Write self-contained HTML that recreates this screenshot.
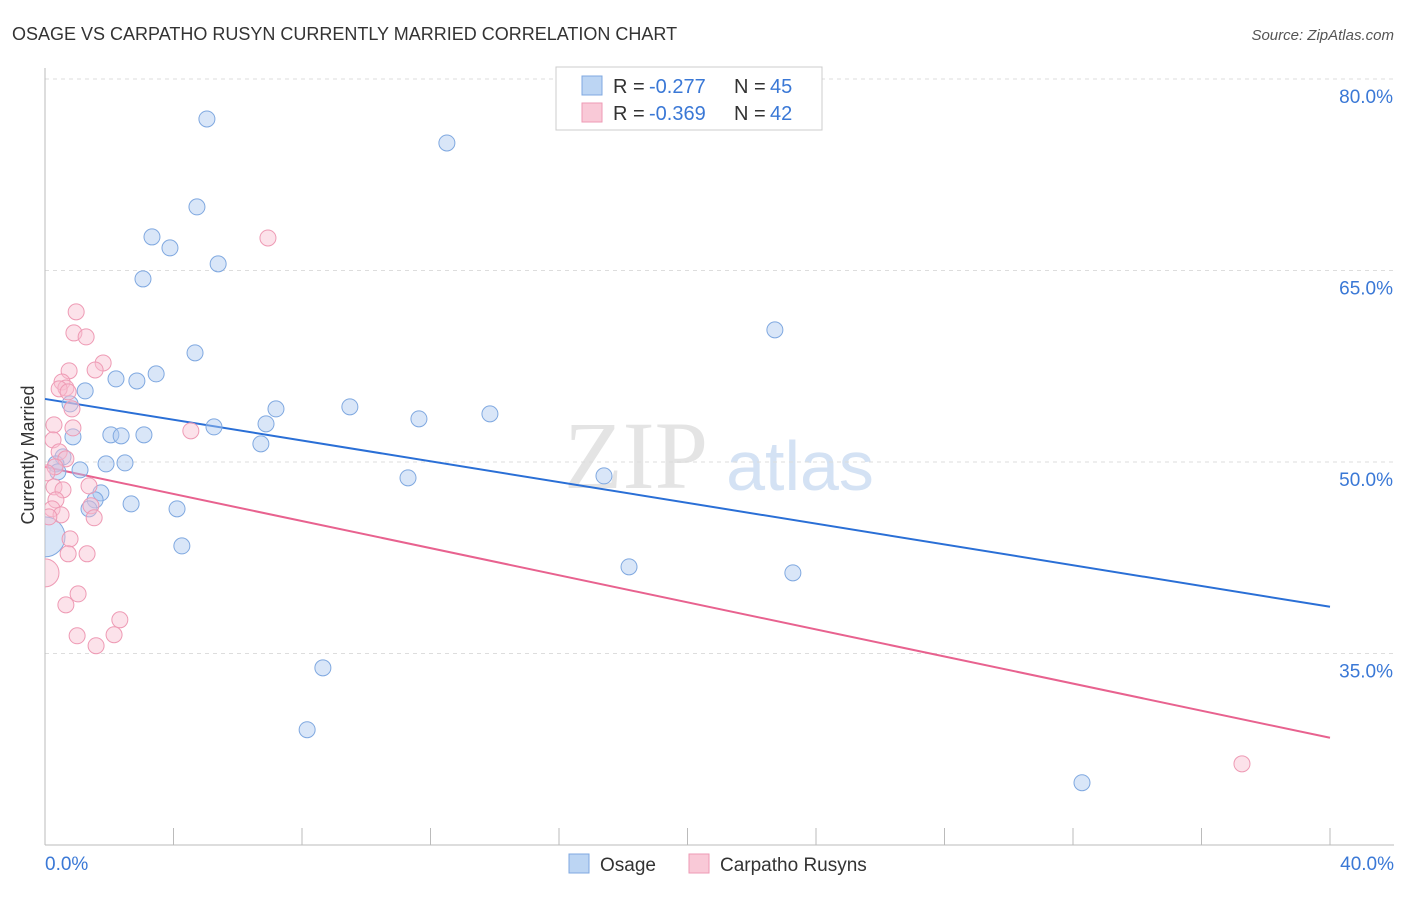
<!DOCTYPE html>
<html><head><meta charset="utf-8"><style>
body{margin:0;background:#fff;font-family:"Liberation Sans",sans-serif;}
</style></head><body>
<svg id="chart" width="1406" height="892" xmlns="http://www.w3.org/2000/svg" font-family="Liberation Sans, sans-serif">
<defs><clipPath id="plotclip"><rect x="45" y="60" width="1360" height="785"/></clipPath></defs>
<text x="12" y="40" font-size="18" fill="#333">OSAGE VS CARPATHO RUSYN CURRENTLY MARRIED CORRELATION CHART</text>
<text x="1394" y="40" font-size="15" fill="#555" font-style="italic" text-anchor="end">Source: ZipAtlas.com</text>
<text x="636" y="488" font-size="96" fill="#e4e4e4" font-family="Liberation Serif, serif" text-anchor="middle">ZIP</text>
<text x="800" y="490" font-size="70" fill="#d4e2f4" text-anchor="middle">atlas</text>
<g id="grid"></g><g id="axes"></g><g id="lines"></g><g id="pts" clip-path="url(#plotclip)"></g>
<text transform="translate(34,455) rotate(-90)" font-size="18" fill="#333" text-anchor="middle">Currently Married</text>
<g>
<rect x="556" y="67" width="266" height="63" fill="#fff" stroke="#ccc"/>
<rect x="582" y="76" width="20" height="19" fill="#bcd5f3" stroke="#7fa8e0"/>
<rect x="582" y="103" width="20" height="19" fill="#f9c9d7" stroke="#ee9ab4"/>
<text x="613" y="93" font-size="20" fill="#333">R =</text>
<text x="649" y="93" font-size="20" fill="#3a78d6">-0.277</text>
<text x="734" y="93" font-size="20" fill="#333">N =</text>
<text x="770" y="93" font-size="20" fill="#3a78d6">45</text>
<text x="613" y="120" font-size="20" fill="#333">R =</text>
<text x="649" y="120" font-size="20" fill="#3a78d6">-0.369</text>
<text x="734" y="120" font-size="20" fill="#333">N =</text>
<text x="770" y="120" font-size="20" fill="#3a78d6">42</text>
</g>
<g>
<rect x="569" y="854" width="20" height="19" fill="#bcd5f3" stroke="#7fa8e0"/>
<text x="600" y="871" font-size="19" fill="#333">Osage</text>
<rect x="689" y="854" width="20" height="19" fill="#f9c9d7" stroke="#ee9ab4"/>
<text x="720" y="871" font-size="19" fill="#333">Carpatho Rusyns</text>
</g>
</svg>
<script>
const yTicks=[80,65,50,35];
const xTickLabels=["0.0%","40.0%"];
const osageX=[5.04,12.51,4.73,3.33,3.89,5.39,3.05,22.72,4.67,3.46,2.21,2.86,1.25,0.78,9.49,7.19,13.85,11.64,5.26,6.88,2.05,2.37,3.08,0.87,6.72,0.56,0.34,2.49,1.90,1.09,0.40,11.30,17.40,1.74,1.56,2.68,1.37,4.11,4.26,18.18,23.28,8.65,8.16,32.28,0];
const osageY=[76.87,74.99,69.98,67.63,66.77,65.52,64.34,60.35,58.55,56.90,56.51,56.35,55.57,54.55,54.32,54.16,53.77,53.38,52.75,52.99,52.13,52.05,52.13,51.97,51.42,50.40,49.85,49.93,49.85,49.38,49.23,48.76,48.91,47.58,47.03,46.72,46.33,46.33,43.43,41.79,41.32,33.88,29.03,24.88,44.14];
const rusynX=[6.94,0.97,0.90,1.28,1.81,0.75,1.56,0.53,0.65,0.44,0.72,0.84,0.28,0.87,4.54,0.25,0.44,0.65,0.31,0.06,0.28,1.37,0.56,0.34,0.22,1.43,1.53,0.50,0.12,0.78,0.72,1.31,0,1.03,0.65,2.33,2.15,1.00,1.59,37.26];
const rusynY=[67.55,61.76,60.11,59.80,57.76,57.14,57.21,56.27,55.80,55.73,55.49,54.16,52.91,52.67,52.44,51.73,50.79,50.25,49.62,49.15,48.05,48.13,47.82,47.03,46.33,46.57,45.63,45.86,45.70,43.98,42.81,42.81,41.32,39.67,38.81,37.64,36.47,36.39,35.61,26.36];
const osageTrend=[54.94,38.66];
const rusynTrend=[49.62,28.40];
const NS="http://www.w3.org/2000/svg";
const X=v=>45+v/40*1285, Y=v=>79+(80-v)*12.767;
function mk(t,a,p){const e=document.createElementNS(NS,t);for(const k in a)e.setAttribute(k,a[k]);document.getElementById(p).appendChild(e);return e;}
yTicks.forEach(t=>{
 const l=mk('line',{x1:45,x2:1394,y1:Y(t),y2:Y(t),stroke:'#ddd','stroke-dasharray':'4,4'},'grid');
 
 
 const tx=mk('text',{x:1393,y:Y(t)+24,'font-size':19,fill:'#3a78d6','text-anchor':'end'},'grid');
 tx.textContent=t.toFixed(1)+'%';
 
 
});
mk('line',{x1:45,x2:45,y1:68,y2:845,stroke:'#bbb'},'axes');
mk('line',{x1:45,x2:1394,y1:845,y2:845,stroke:'#bbb'},'axes');
for(let i=0;i<=10;i++){const x=X(i*4);const t=mk('line',{x1:x,x2:x,y1:828,y2:845,stroke:'#bbb'},'axes');
 
 }
[[0,'start',45],[40,'end',1394]].forEach((d,i)=>{const t=mk('text',{x:d[2],y:870,'font-size':19,fill:'#3a78d6','text-anchor':d[1]},'axes');t.textContent=xTickLabels[i];
 
 });
const bl=mk('line',{x1:X(0),x2:X(40),y1:Y(osageTrend[0]),y2:Y(osageTrend[1]),stroke:'#2a6fd6','stroke-width':2},'lines');


const pl=mk('line',{x1:X(0),x2:X(40),y1:Y(rusynTrend[0]),y2:Y(rusynTrend[1]),stroke:'#e8628f','stroke-width':2},'lines');


osageX.forEach((x,i)=>{const big=i===osageX.length-1;
 const c=mk('circle',{cx:X(x),cy:Y(osageY[i]),r:big?20:8,fill:'rgba(170,200,240,0.45)',stroke:'#7fa8e0','stroke-width':1},'pts');
 
 });
rusynX.forEach((x,i)=>{const big=rusynX[i]===0;
 const c=mk('circle',{cx:X(x),cy:Y(rusynY[i]),r:big?14:8,fill:'rgba(248,190,208,0.45)',stroke:'#ee9ab4','stroke-width':1},'pts');
 
 });
</script>
</body></html>
